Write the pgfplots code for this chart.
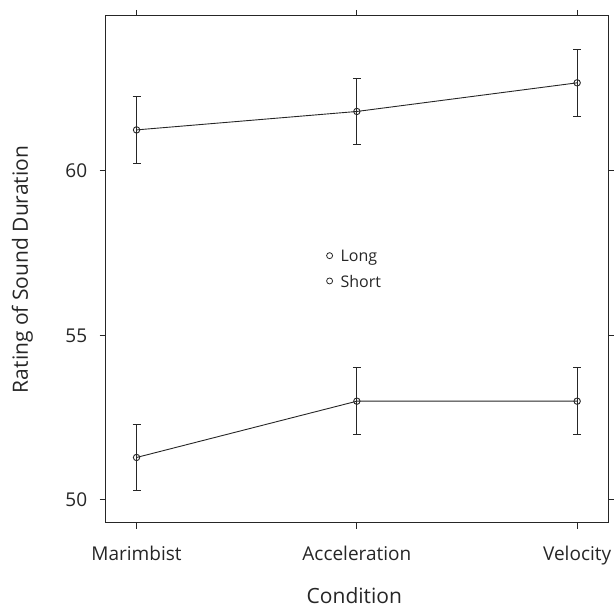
\documentclass[border=0pt]{standalone}
\usepackage{pgfplots}
\pgfplotsset{compat=1.18}
\usepackage{fontspec}
\setmainfont{Open Sans}
\begin{document}
\begin{tikzpicture}
\begin{axis}[
  scale only axis,
  width=502.3pt, height=507pt,
  xmin=-0.14, xmax=2.14,
  ymin=49.3, ymax=64.7,
  xtick={0,1,2},
  xticklabels={Marimbist,Acceleration,Velocity},
  ytick={50,55,60},
  tick pos=both,
  ticklabel pos=left,
  tick align=outside,
  major tick length=6pt,
  minor tick num=0,
  axis line style={line width=1pt, black!85},
  every tick/.style={line width=1pt, black!85},
  /pgf/number format/assume math mode=true,
  tick label style={font=\fontsize{19}{22}\selectfont, text=black!85},
  xticklabel style={yshift=-14pt},
  yticklabel style={xshift=-9pt},
  xlabel={Condition},
  ylabel={Rating of Sound Duration},
  every axis x label/.style={at={(axis description cs:0.495,-0.1578)}, anchor=base,
    font=\fontsize{21}{24}\selectfont, text=black!85},
  every axis y label/.style={at={(axis description cs:-0.1547,0.5)}, anchor=base, rotate=90,
    font=\fontsize{21}{24}\selectfont, text=black!85},
  legend style={at={(0.4386,0.5)}, anchor=west, draw=none, fill=none, inner sep=0pt,
    row sep=8pt, font=\fontsize{16}{19}\selectfont, text=black!85},
  legend cell align=left,
  legend image code/.code={\draw[line width=0.8pt, black!85, fill=none] (0pt,1pt) circle (3pt); \path[draw=none] (-3pt,0pt) -- (9pt,0pt);},
]
\addplot[black!85, line width=0.9pt, mark=o, mark size=3.2pt,
  mark options={line width=0.9pt},
  error bars/.cd, y dir=both, y explicit,
  error bar style={line width=0.9pt, black!85},
  error mark options={rotate=90, mark size=4pt, line width=0.9pt, black!85}]
  coordinates {
  (0,61.24) +- (0,1.01)
  (1,61.80) +- (0,1.01)
  (2,62.67) +- (0,1.01)
};
\addlegendentry{Long}
\addplot[black!85, line width=0.9pt, mark=o, mark size=3.2pt,
  mark options={line width=0.9pt},
  error bars/.cd, y dir=both, y explicit,
  error bar style={line width=0.9pt, black!85},
  error mark options={rotate=90, mark size=4pt, line width=0.9pt, black!85}]
  coordinates {
  (0,51.29) +- (0,1.01)
  (1,53.00) +- (0,1.02)
  (2,53.00) +- (0,1.02)
};
\addlegendentry{Short}
\end{axis}
\pgfresetboundingbox
\useasboundingbox (-105.7pt,-86pt) rectangle (508.3pt,523pt);
\end{tikzpicture}
\end{document}
